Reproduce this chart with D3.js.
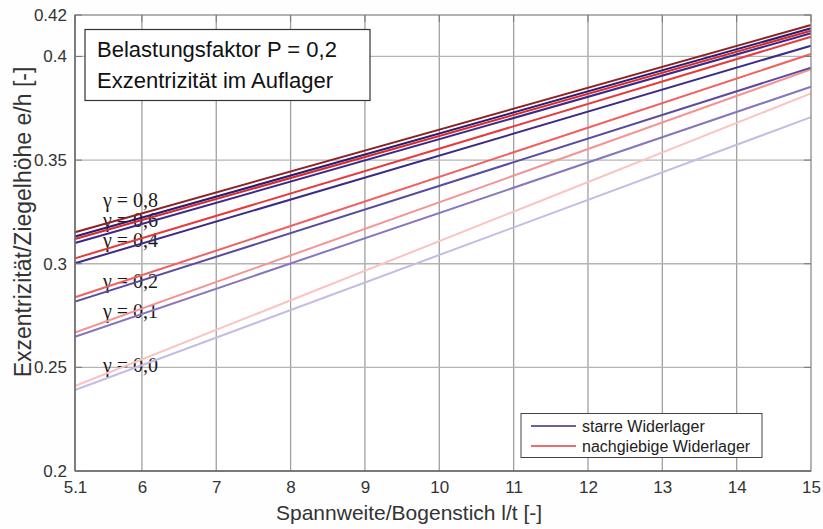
<!DOCTYPE html>
<html><head><meta charset="utf-8">
<script src="https://cdn.jsdelivr.net/npm/d3@7"></script>
<style>body{margin:0;background:#fff}svg{display:block}text{font-family:"Liberation Sans",Arial,sans-serif}</style>
</head><body><svg id="c" width="823" height="529"></svg>
<script>
const xTicks = [5.1,6,7,8,9,10,11,12,13,14,15];
const yTicks = [0.2,0.25,0.3,0.35,0.4,0.42];
const xValues = [5.1, 15];
const gammas = [0.8,0.6,0.4,0.2,0.1,0.0];
const gammaLabels = ["γ = 0,8","γ = 0,6","γ = 0,4","γ = 0,2","γ = 0,1","γ = 0,0"];
const gammaLabelY = [0.3275,0.3179,0.3081,0.2883,0.2738,0.2479];
// e/h at l/t = 5.1 and 15
const starre0_8 = [0.3131,0.4136];
const starre0_6 = [0.3100,0.4112];
const starre0_4 = [0.3002,0.4052];
const starre0_2 = [0.2817,0.3946];
const starre0_1 = [0.2648,0.3854];
const starre0_0 = [0.2391,0.3707];
const nachg0_8 = [0.3152,0.4152];
const nachg0_6 = [0.3119,0.4124];
const nachg0_4 = [0.3026,0.4095];
const nachg0_2 = [0.2838,0.4012];
const nachg0_1 = [0.2668,0.3938];
const nachg0_0 = [0.2410,0.3822];
const starreColors = ["#2c1a70","#3a2888","#3c2a88","#5a4aa0","#8676bf","#c4bce4"];
const nachgColors  = ["#8c2222","#d92828","#e83a3a","#f06060","#f59494","#fcc2c2"];
const legendLabels = ["starre Widerlager","nachgiebige Widerlager"];

const starre = [starre0_8,starre0_6,starre0_4,starre0_2,starre0_1,starre0_0];
const nachg = [nachg0_8,nachg0_6,nachg0_4,nachg0_2,nachg0_1,nachg0_0];

const svg = d3.select("#c");
const L=75,R=811,T=15,B=471;
const x = d3.scaleLinear().domain([5.1,15]).range([L,R]);
const y = d3.scaleLinear().domain([0.2,0.42]).range([B,T]);

svg.append("rect").attr("width",823).attr("height",529).attr("fill","#fefefe");
svg.append("rect").attr("x",L).attr("y",T).attr("width",R-L).attr("height",B-T).attr("fill","#fff");

// grid
const g = svg.append("g");
g.selectAll(".gx").data(xTicks.slice(1,-1)).enter().append("line")
 .attr("x1",d=>x(d)).attr("x2",d=>x(d)).attr("y1",T).attr("y2",B)
 .attr("stroke","#a0a0a0").attr("stroke-width",1.3);
g.selectAll(".gy").data(yTicks.slice(1,-1)).enter().append("line")
 .attr("y1",d=>y(d)).attr("y2",d=>y(d)).attr("x1",L).attr("x2",R)
 .attr("stroke","#b4b4b4").attr("stroke-width",1.3);

// gamma labels
svg.selectAll(".gl").data(gammaLabels).enter().append("text")
 .attr("x",103).attr("y",(d,i)=>y(gammaLabelY[i]))
 .style("font-family","'Liberation Serif','Times New Roman',serif")
 .attr("font-size",20).attr("fill","#1a1a1a").text(d=>d);

// lines
const line = d3.line().x((d,i)=>x(xValues[i])).y(d=>y(d));
for(let i=gammas.length-1;i>=0;i--){
  svg.append("path").attr("d",line(starre[i])).attr("fill","none").attr("stroke",starreColors[i]).attr("stroke-width",2);
  svg.append("path").attr("d",line(nachg[i])).attr("fill","none").attr("stroke",nachgColors[i]).attr("stroke-width",2);
}

// frame
svg.append("rect").attr("x",L).attr("y",T).attr("width",R-L).attr("height",B-T)
 .attr("fill","none").attr("stroke","#8a8a8a").attr("stroke-width",1.3);
svg.append("line").attr("x1",L).attr("x2",L).attr("y1",T).attr("y2",B).attr("stroke","#666").attr("stroke-width",1.4);
svg.append("line").attr("x1",L).attr("x2",R).attr("y1",B).attr("y2",B).attr("stroke","#666").attr("stroke-width",1.4);

// axes
const xAxis = d3.axisBottom(x).tickValues(xTicks).tickSize(0).tickPadding(10).tickFormat(d=>String(d));
const ax = svg.append("g").attr("transform",`translate(0,${B})`).call(xAxis);
ax.select(".domain").remove();
ax.selectAll("text").attr("font-size",17).attr("fill","#333").style("font-family","'Liberation Sans',Arial,sans-serif");
const yAxis = d3.axisLeft(y).tickValues(yTicks).tickSize(0).tickPadding(8).tickFormat(d=>String(d));
const ay = svg.append("g").attr("transform",`translate(${L},0)`).call(yAxis);
ay.select(".domain").remove();
ay.selectAll("text").attr("font-size",17).attr("fill","#333").style("font-family","'Liberation Sans',Arial,sans-serif");
// small tick marks inward
svg.selectAll(".ty").data(yTicks).enter().append("line").attr("x1",L).attr("x2",L+7).attr("y1",d=>y(d)).attr("y2",d=>y(d)).attr("stroke","#777");
svg.selectAll(".ty2").data(yTicks).enter().append("line").attr("x1",R).attr("x2",R-7).attr("y1",d=>y(d)).attr("y2",d=>y(d)).attr("stroke","#777");
svg.selectAll(".tx").data(xTicks).enter().append("line").attr("x1",d=>x(d)).attr("x2",d=>x(d)).attr("y1",T).attr("y2",T+7).attr("stroke","#777");

// axis titles
svg.append("text").attr("x",276).attr("y",520).attr("text-anchor","start")
 .attr("font-size",21).attr("fill","#333").text("Spannweite/Bogenstich l/t [-]");
svg.append("text").attr("transform",`translate(31,222) rotate(-90)`).attr("text-anchor","middle")
 .attr("font-size",23).attr("fill","#333").text("Exzentrizität/Ziegelhöhe e/h [-]");

// info box
svg.append("rect").attr("x",85).attr("y",29.5).attr("width",285).attr("height",71)
 .attr("fill","#fff").attr("stroke","#333").attr("stroke-width",1.2);
svg.append("text").attr("x",97).attr("y",57).attr("font-size",22).attr("fill","#111").text("Belastungsfaktor P = 0,2");
svg.append("text").attr("x",97).attr("y",88).attr("font-size",22).attr("fill","#111").text("Exzentrizität im Auflager");

// legend
svg.append("rect").attr("x",521).attr("y",413.5).attr("width",241).attr("height",44)
 .attr("fill","#fff").attr("stroke","#444").attr("stroke-width",1);
const legColors=[starreColors[2],nachgColors[2]];
legendLabels.forEach((t,i)=>{
  const yy = 426 + i*20;
  svg.append("line").attr("x1",531).attr("x2",576).attr("y1",yy).attr("y2",yy).attr("stroke",legColors[i]).attr("stroke-width",1.5);
  svg.append("text").attr("x",582).attr("y",yy+5.5).attr("font-size",16).attr("fill","#222").text(t);
});
</script></body></html>
